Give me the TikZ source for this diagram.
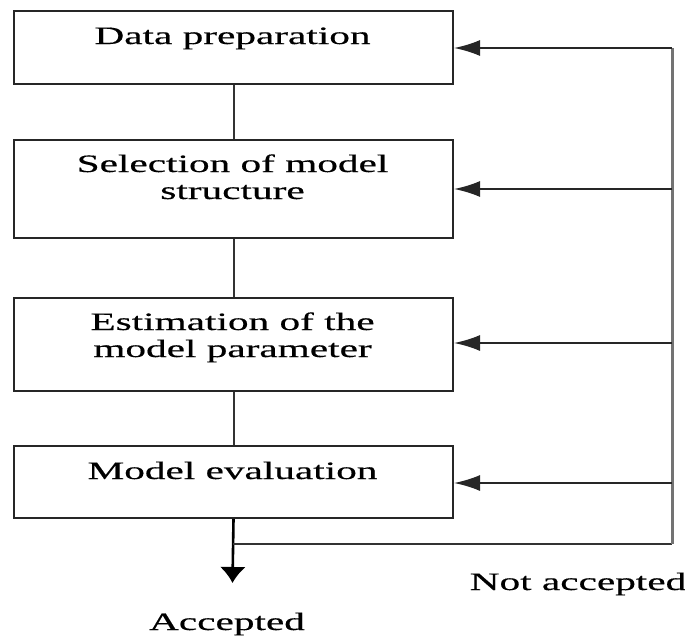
\documentclass[tikz,border=0pt]{standalone}
\usepackage{fontspec}
\usepackage{graphicx}
\setmainfont{Liberation Serif}
\newfontfamily\heavyserif{Liberation Serif}[FakeBold=0.35]
\usetikzlibrary{arrows.meta}
\newcommand{\widetxt}[1]{\scalebox{1.65}[1]{#1}}
\tikzset{
  stage/.style={draw=black!85, line width=2pt, rectangle, inner sep=0pt, minimum width=439pt, anchor=north west},
  lbl/.style={font=\heavyserif\fontsize{25}{27}\selectfont, inner sep=0pt, anchor=base, text=black},
  link/.style={draw=black!80, line width=2pt},
  back/.style={draw=black!85, line width=2pt, -{Latex[length=26pt,width=16pt]}},
  rail/.style={draw=black!55, line width=3pt},
}
\begin{document}
\begin{tikzpicture}[x=1pt,y=-1pt]
\useasboundingbox (0,0) rectangle (685,637);
% boxes
\node[stage, minimum height=73pt] (b1) at (13,10) {};
\node[stage, minimum height=98pt] (b2) at (13,139) {};
\node[stage, minimum height=93pt] (b3) at (13,297) {};
\node[stage, minimum height=72pt] (b4) at (13,445) {};
% labels
\node[lbl] (t1) at (232.5,44) {\widetxt{Data preparation}};
\node[lbl] (t2) at (232.5,172) {\begin{tabular}[t]{@{}c@{}}\widetxt{Selection of model}\\\widetxt{structure}\end{tabular}};
\node[lbl] (t3) at (232.5,330) {\begin{tabular}[t]{@{}c@{}}\widetxt{Estimation of the}\\\widetxt{model parameter}\end{tabular}};
\node[lbl] (t4) at (232.5,479) {\widetxt{Model evaluation}};
\node[lbl] (na) at (578,590) {\widetxt{Not accepted}};
\node[lbl] (ac) at (227,630) {\widetxt{Accepted}};
% vertical links
\draw[link] (b1.south) -- (b2.north);
\draw[link] (b2.south) -- (b3.north);
\draw[link] (b3.south) -- (b4.north);
% accepted arrow
\coordinate (acc) at (232.5,583);
\coordinate (j) at (232.5,544);
\draw[line width=2.6pt, -{Latex[length=16pt,width=26pt]}] (b4.south) -- (acc);
% feedback rail
\coordinate (rb) at (672,544);
\coordinate (f1) at (672,48);
\coordinate (f2) at (672,189);
\coordinate (f3) at (672,343);
\coordinate (f4) at (672,483);
\draw[link] (j) -- (rb);
\draw[rail] (rb) -- (f1);
\draw[back] (f1) -- (f1 -| b1.east);
\draw[back] (f2) -- (f2 -| b2.east);
\draw[back] (f3) -- (f3 -| b3.east);
\draw[back] (f4) -- (f4 -| b4.east);
\end{tikzpicture}
\end{document}
